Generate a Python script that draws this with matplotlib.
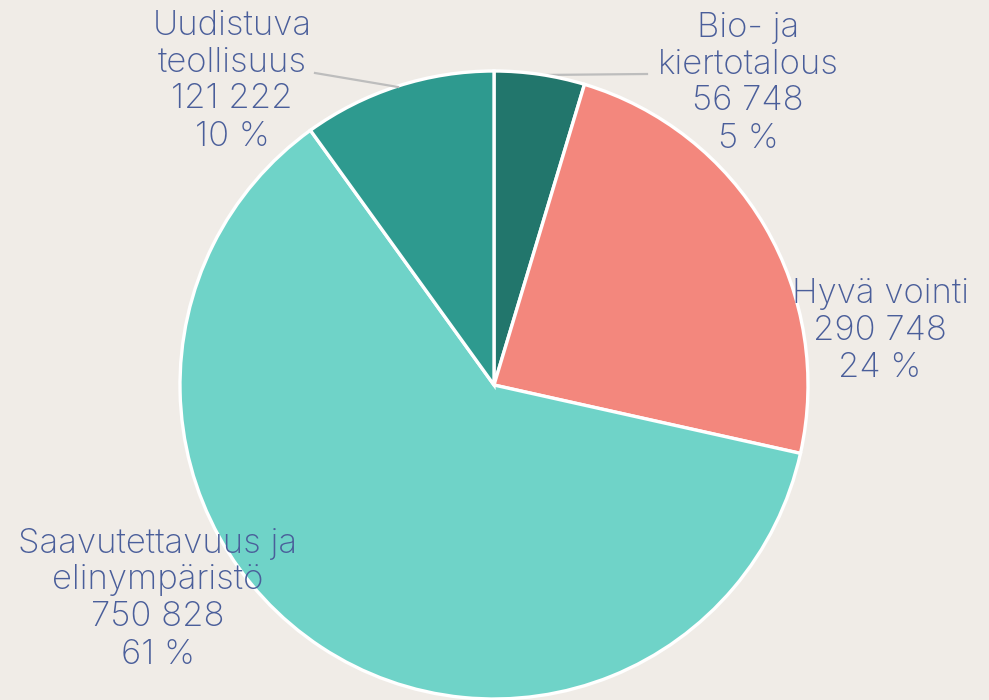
import matplotlib.pyplot as plt

categories = ["Bio- ja\nkiertotalous", "Hyvä vointi", "Saavutettavuus ja\nelinympäristö", "Uudistuva\nteollisuus"]
values = [56748, 290748, 750828, 121222]
shares = [5, 24, 61, 10]
colors = ["#22766c", "#f3877d", "#6fd3c8", "#2e9a8f"]

bg = "#f0ece7"
txt = "#4a5e9a"

fig = plt.figure(figsize=(9.89, 7), dpi=100, facecolor=bg)
ax = fig.add_axes([0, 0, 1, 1])
ax.set_facecolor(bg)

ax.pie(values, colors=colors, startangle=90, counterclock=False,
       center=(494, 315), radius=314, frame=True,
       wedgeprops=dict(edgecolor="white", linewidth=2.4))
ax.set_xlim(0, 989)
ax.set_ylim(0, 700)
ax.set_aspect("equal")
ax.axis("off")

def fmt(v):
    return f"{v:,}".replace(",", " ")

# label anchor points (centre of each text block)
label_pos = [(748, 617), (880, 369), (158, 101), (232, 619)]
for cat, v, p, (x, y) in zip(categories, values, shares, label_pos):
    s = f"{cat}\n{fmt(v)}\n{p} %"
    ax.text(x, y, s, ha="center", va="center", fontsize=25, color=txt,
            family="Inter", fontweight="light", linespacing=1.2)

# leader lines for the two small slices
ax.plot([540, 647], [625, 626], color="#bdbdbd", lw=1.6, zorder=0.5)
ax.plot([315, 398], [627, 613], color="#bdbdbd", lw=1.6, zorder=3)

fig.savefig("out.png", dpi=100, facecolor=bg)
